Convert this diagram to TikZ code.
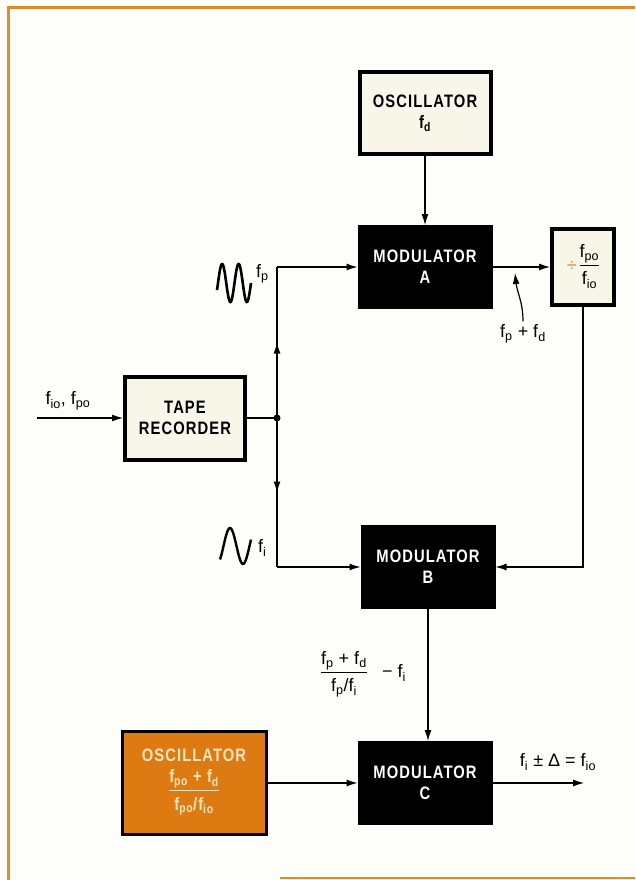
\documentclass[tikz,border=0pt]{standalone}
\usepackage{fontspec}
\setmainfont{Liberation Sans}
\newfontfamily\boxfont[FakeStretch=0.82,LetterSpace=6]{Liberation Sans}
\usetikzlibrary{arrows.meta,decorations.markings}

\definecolor{paper}{HTML}{FDFDFA}
\definecolor{cream}{HTML}{F7F6E9}
\definecolor{frame}{HTML}{E2892A}
\definecolor{orangefill}{HTML}{DE7A12}
\definecolor{oscink}{HTML}{F8E6C0}

\setlength{\arrayrulewidth}{1pt}
\newcommand{\fq}[1]{f\textsubscript{#1}}
\newcommand{\frc}[3][c]{\begin{tabular}[#1]{@{}c@{}}#2\\[1pt]\hline\rule{0pt}{19pt}#3\end{tabular}}

\tikzset{
	capsfont/.style={font=\boxfont\bfseries\fontsize{18}{21}\selectfont},
	modbox/.style={draw=black, fill=black, text=white, line width=1pt, minimum width=134, minimum height=83, inner sep=0pt, align=center, capsfont},
	whitebox/.style={draw=black, fill=cream, line width=4pt, inner sep=0pt, align=center, capsfont},
	oscbox/.style={draw=black, fill=orangefill, text=oscink, line width=3pt, inner sep=0pt, align=center, capsfont},
	wire/.style={line width=1.2pt},
	sig/.style={wire, -{Latex[length=11pt,width=7pt]}},
	midarrow/.style={postaction={decorate}, decoration={markings, mark=at position 0.5 with {\arrow{Latex[length=11pt,width=7pt]}}}}
}

\begin{document}
\begin{tikzpicture}[x=1pt, y=-1pt, font=\fontsize{18}{21}\selectfont]
	
	\useasboundingbox (0,0) rectangle (635,880);
	
	% Page and frame
	\fill[paper] (0,0) rectangle (635,880);
	\draw[frame, line width=3pt] (8,880) -- (8,8) -- (635,8);
	\draw[frame, line width=2pt] (280,878) -- (635,878);
	
	% Blocks
	\node[whitebox, minimum width=131, minimum height=81] (oscD) at (425,113) {OSCILLATOR\\ \fq{d}};
	\node[modbox] (modA) at (425,267) {MODULATOR\\A};
	\node[whitebox, font=\fontsize{18}{21}\selectfont, minimum width=62, minimum height=76] (divider) at (583,267) {{\color{frame}÷}\,\frc{\fq{po}}{\fq{io}}};
	\node[whitebox, minimum width=120, minimum height=83] (tape) at (185,418) {TAPE\\RECORDER};
	\node[modbox] (modB) at (428,567) {MODULATOR\\B};
	\node[modbox] (modC) at (425,783) {MODULATOR\\C};
	\node[oscbox, minimum width=144, minimum height=103] (oscO) at (194,783) {OSCILLATOR\\ \frc[t]{\fq{po} + \fq{d}}{\fq{po}/\fq{io}}};
	
	% Junction after the tape recorder
	\coordinate (jn) at (277,418);
	\coordinate (jtop) at (277,267);
	\coordinate (jbot) at (277,567);
	\fill (jn) circle (3.5pt);
	
	% Signal paths
	\coordinate (inp) at (37,418);
	\draw[sig] (inp) -- (tape.west);
	\draw[wire] (tape.east) -- (jn);
	\draw[wire, midarrow] (jn) -- (jtop);
	\draw[wire, midarrow] (jn) -- (jbot);
	\draw[sig] (jtop) -- (jtop -| modA.west);
	\draw[sig] (jbot) -- (jbot -| modB.west);
	\draw[sig] (oscD) -- (modA);
	\draw[sig] (modA.east) -- (divider.west);
	\draw[sig] (divider.south) |- (modB.east);
	\draw[sig] (modB.south) -- (modB.south |- modC.north);
	\draw[sig] (oscO.east) -- (oscO.east -| modC.west);
	\coordinate (out) at (584,783);
	\draw[sig] (modC.east) -- (out);
	
	% Waveforms
	\draw[line width=2.6pt] plot[domain=217:251, samples=80, smooth] (\x, {283-19*sin(360*(\x-218)/16.5)});
	\draw[line width=2.4pt] plot[domain=220:251, samples=80, smooth] (\x, {546-18*sin(360*(\x-223.5)/26)});
	
	% Labels
	\node (inLbl) at (68,401) {\fq{io}, \fq{po}};
	\node[anchor=west, inner sep=1pt] (fpLbl) at (255,274) {\fq{p}};
	\node[anchor=west, inner sep=1pt] (fiLbl) at (257,548) {\fq{i}};
	\node (sumA) at (523,334) {\fq{p} + \fq{d}};
	\coordinate (tapA) at (515,273);
	\draw[sig] (sumA.north) .. controls (523,302) and (517,292) .. (tapA);
	\node (fracB) at (344,674) {\frc{\fq{p} + \fq{d}}{\fq{p}/\fq{i}}};
	\node (minusB) at (394,673) {− \fq{i}};
	\node (outLbl) at (558,762) {\fq{i} ± Δ = \fq{io}};
	
\end{tikzpicture}
\end{document}
